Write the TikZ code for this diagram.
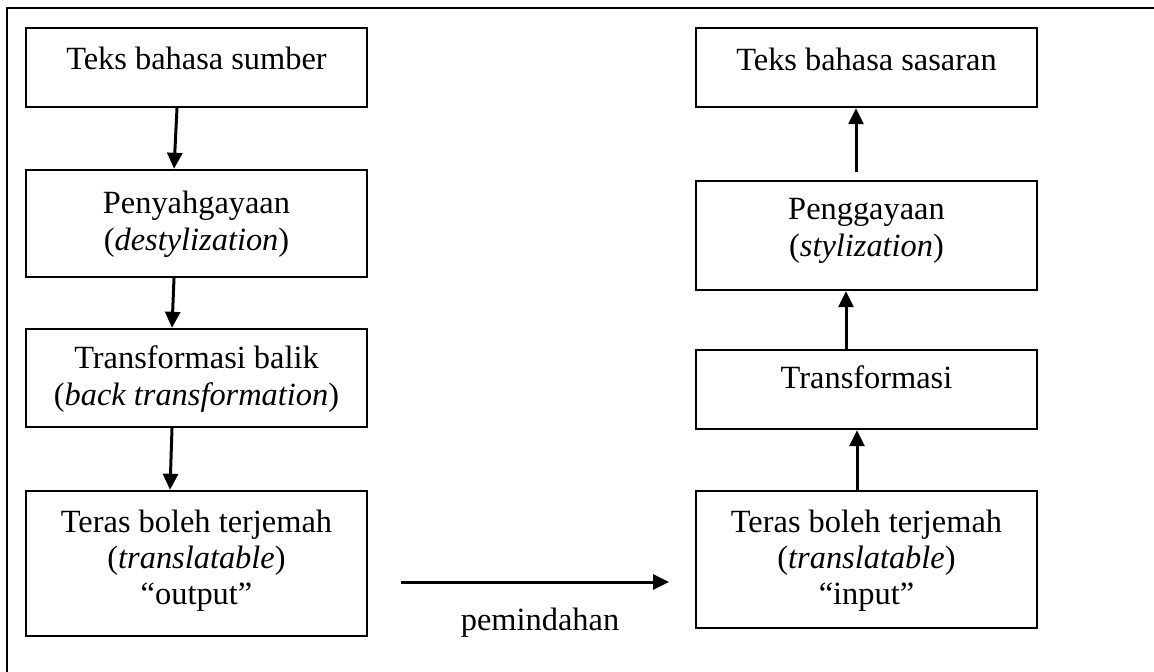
\documentclass[tikz,border=0pt]{standalone}
\usepackage{fontspec}
\setmainfont{Liberation Serif}
\usetikzlibrary{arrows.meta,calc}
\begin{document}
\begin{tikzpicture}[x=0.5pt,y=-0.5pt,
  box/.style={draw,line width=1.2pt,rectangle,inner sep=0pt,minimum width=170.5pt},
  lbl/.style={anchor=base,inner sep=0pt,font=\fontsize{16.2}{18.2}\selectfont},
  arr/.style={line width=1.5pt,-{Triangle[length=8pt,width=7.5pt]}},
  frame/.style={line width=1.1pt}]
\useasboundingbox (0,0) rectangle (1154,672);
\draw[frame] (7,672) -- (7,8) -- (1154,8);
% left column
\node[box,minimum height=39.5pt] (b1) at (196.5,67.5) {};
\node[box,minimum height=53.5pt] (b2) at (196.5,223.5) {};
\node[box,minimum height=49pt] (b3) at (196.5,378) {};
\node[box,minimum height=72.5pt] (b4) at (196.5,563.5) {};
% right column
\node[box,minimum height=39.5pt] (r1) at (866.5,67.5) {};
\node[box,minimum height=54.5pt] (r2) at (866.5,235.5) {};
\node[box,minimum height=39.5pt] (r3) at (866.5,389.5) {};
\node[box,minimum height=68.5pt] (r4) at (866.5,559.5) {};
% texts
\node[lbl] (t1) at (196.5,70) {Teks bahasa sumber};
\node[lbl] (t2) at (196.5,214) {\begin{tabular}[t]{@{}c@{}}Penyahgayaan\\(\textit{destylization})\end{tabular}};
\node[lbl] (t3) at (196.5,369) {\begin{tabular}[t]{@{}c@{}}Transformasi balik\\(\textit{back transformation})\end{tabular}};
\node[lbl] (t4) at (196.5,532) {\begin{tabular}[t]{@{}c@{}}Teras boleh terjemah\\(\textit{translatable})\\“output”\end{tabular}};
\node[lbl] (s1) at (866.5,71) {Teks bahasa sasaran};
\node[lbl] (s2) at (866.5,220) {\begin{tabular}[t]{@{}c@{}}Penggayaan\\(\textit{stylization})\end{tabular}};
\node[lbl] (s3) at (866.5,389) {Transformasi};
\node[lbl] (s4) at (866.5,532) {\begin{tabular}[t]{@{}c@{}}Teras boleh terjemah\\(\textit{translatable})\\“input”\end{tabular}};
\node[lbl] (pm) at (540,630) {pemindahan};
% connectors
\draw[arr] ($(b1.south)+(-19.5,0)$) -- ($(b2.north)+(-22.5,0)$);
\draw[arr] ($(b2.south)+(-22.5,0)$) -- ($(b3.north)+(-24.5,0)$);
\draw[arr] ($(b3.south)+(-24.5,0)$) -- ($(b4.north)+(-26.5,0)$);
\draw[arr] ($(r4.north)+(-9.5,0)$) -- ($(r3.south)+(-9.5,0)$);
\draw[arr] ($(r3.north)+(-20.5,0)$) -- ($(r2.south)+(-20.5,0)$);
\draw[arr] ($(r2.north)+(-10.5,-8)$) -- ($(r1.south)+(-10.5,0)$);
\coordinate (hs) at (401,582);
\coordinate (he) at (669,582);
\draw[arr] (hs) -- (he);
\end{tikzpicture}
\end{document}
